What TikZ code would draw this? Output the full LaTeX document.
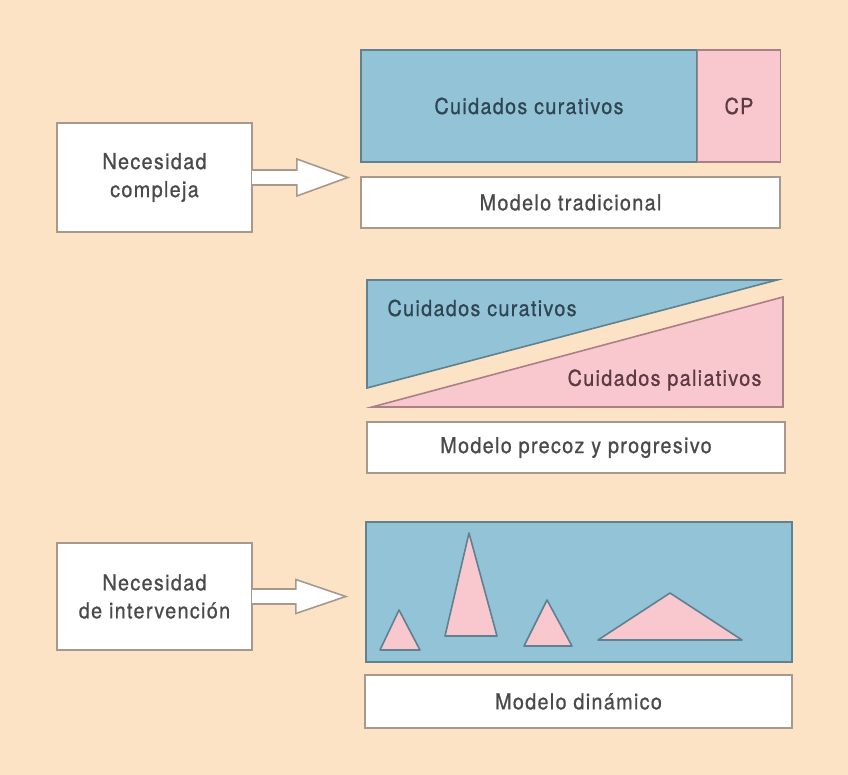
\documentclass[tikz,border=0pt]{standalone}
\usepackage{fontspec}
\setmainfont{TeX Gyre Heros}[LetterSpace=6, FakeStretch=0.9, FakeBold=0.8]
\usetikzlibrary{calc}

\definecolor{fondo}{HTML}{FDE3C6}
\definecolor{azul}{HTML}{93C3D7}
\definecolor{rosa}{HTML}{F9C8CE}
\definecolor{bordeazul}{HTML}{5F8190}
\definecolor{borderosa}{HTML}{A98088}
\definecolor{bordegris}{HTML}{A8998C}
\definecolor{textoazul}{HTML}{2F4652}
\definecolor{textorosa}{HTML}{5B3A42}
\definecolor{textogris}{HTML}{4A4A4A}

\tikzset{
	caja/.style={draw=bordegris, fill=white, line width=1.6pt, inner sep=0pt, align=center, text=textogris},
	bloqueazul/.style={draw=bordeazul, fill=azul, line width=1.6pt, inner sep=0pt, text=textoazul},
	bloquerosa/.style={draw=borderosa, fill=rosa, line width=1.6pt, inner sep=0pt, text=textorosa},
	flecha/.style={draw=bordegris, fill=white, line width=1.6pt, line join=miter},
	pico/.style={draw=bordeazul, fill=rosa, line width=1.6pt, line join=round}
}

\begin{document}
\begin{tikzpicture}[x=1pt, y=-1pt, font=\fontsize{22}{28}\selectfont]
\useasboundingbox (0,0) rectangle (848,775);
\fill[fondo] (0,0) rectangle (848,775);

% modelo tradicional
\node[bloqueazul, minimum width=336, minimum height=112] (cur) at (529,106) {Cuidados curativos};
\node[bloquerosa, minimum width=83, minimum height=112] (cp) at (739,106) {CP};
\node[caja, minimum width=419, minimum height=51] (trad) at (570.5,202.5) {Modelo tradicional};
\node[caja, minimum width=195, minimum height=109] (comp) at (154.5,177.5) {Necesidad\\compleja};
\coordinate (p1) at ($(comp.east)+(95,0)$);
\draw[flecha] ($(comp.east)+(-0.8,-7.5)$) -- ($(comp.east)+(44,-7.5)$) -- ($(comp.east)+(44,-18.5)$) -- (p1)
	-- ($(comp.east)+(44,18.5)$) -- ($(comp.east)+(44,7.5)$) -- ($(comp.east)+(-0.8,7.5)$);

% modelo precoz y progresivo
\draw[bloqueazul] (367,280) -- (777,280) -- (367,388) -- cycle;
\draw[bloquerosa] (372,407) -- (783,297) -- (783,407) -- cycle;
\node[text=textoazul, anchor=west] (cur2) at (384,308) {Cuidados curativos};
\node[text=textorosa, anchor=east] (pal) at (765,380) {Cuidados paliativos};
\node[caja, minimum width=418, minimum height=51] (prec) at (576,447.5) {Modelo precoz y progresivo};

% modelo dinamico
\node[bloqueazul, minimum width=426, minimum height=140] (din) at (579,592) {};
\draw[pico] (380,650) -- (420,650) -- (399,610) -- cycle;
\draw[pico] (445,636) -- (497,636) -- (469,533) -- cycle;
\draw[pico] (524,646) -- (572,646) -- (547,600) -- cycle;
\draw[pico] (598,640) -- (742,640) -- (670,593) -- cycle;
\node[caja, minimum width=427, minimum height=53] (mdin) at (578.5,701.5) {Modelo dinámico};
\node[caja, minimum width=195, minimum height=107] (inter) at (154.5,596.5) {Necesidad\\de intervención};
\coordinate (p2) at ($(inter.east)+(93,0)$);
\draw[flecha] ($(inter.east)+(-0.8,-7.5)$) -- ($(inter.east)+(43,-7.5)$) -- ($(inter.east)+(43,-17)$) -- (p2)
	-- ($(inter.east)+(43,17)$) -- ($(inter.east)+(43,7.5)$) -- ($(inter.east)+(-0.8,7.5)$);
\end{tikzpicture}
\end{document}
